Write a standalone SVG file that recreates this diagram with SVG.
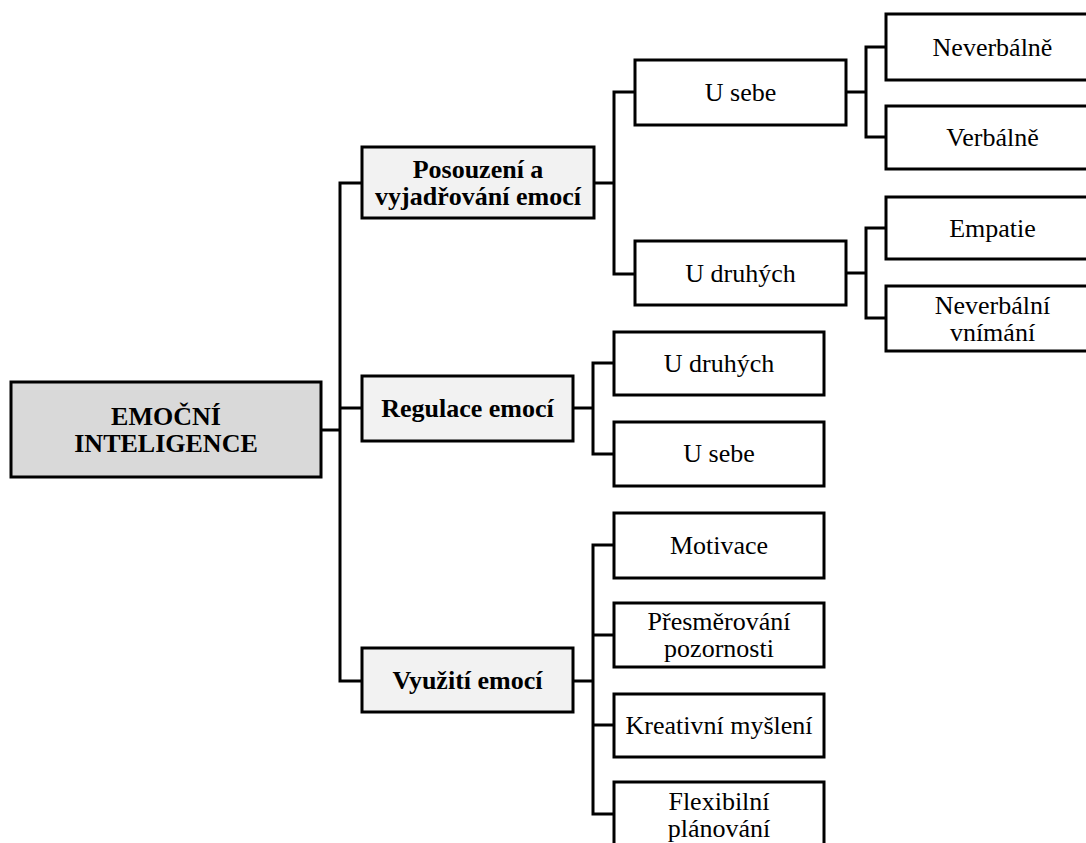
<svg xmlns="http://www.w3.org/2000/svg" width="1086" height="843" viewBox="0 0 1086 843">
<style>
.box{stroke:#000;stroke-width:3;fill:#fff}
.root{fill:#d9d9d9}
.l1{fill:#f2f2f2}
.c{fill:none;stroke:#000;stroke-width:3;stroke-linejoin:miter}
text{font-family:'Liberation Serif','Times New Roman',serif;font-size:26px;text-anchor:middle;fill:#000}
.b{font-weight:bold}
</style>
<rect width="1086" height="843" fill="#fff"/>
<g id="connectors">
<path class="c" d="M321,430 H340"/>
<path class="c" d="M362,183 H340 V681 H362"/>
<path class="c" d="M340,408 H362"/>
<path class="c" d="M594,183 H614"/>
<path class="c" d="M635,92 H614 V274 H635"/>
<path class="c" d="M846,92 H866"/>
<path class="c" d="M886,47 H866 V137 H886"/>
<path class="c" d="M846,273 H866"/>
<path class="c" d="M886,228 H866 V318 H886"/>
<path class="c" d="M573,408 H593"/>
<path class="c" d="M614,363 H593 V454 H614"/>
<path class="c" d="M573,681 H593"/>
<path class="c" d="M614,545 H593 V814 H614"/>
<path class="c" d="M593,635 H614 M593,725 H614"/>
</g>
<g id="emocni-inteligence">
<rect class="box root" x="11" y="382" width="310" height="95"/>
<text class="b" x="166" y="425">EMOČNÍ</text>
<text class="b" x="166" y="452">INTELIGENCE</text>
</g>
<g id="posouzeni">
<rect class="box l1" x="362" y="147" width="232" height="71"/>
<text class="b" x="478" y="177.5">Posouzení a</text>
<text class="b" x="478" y="204.5">vyjadřování emocí</text>
</g>
<g id="regulace">
<rect class="box l1" x="362" y="376" width="211" height="65"/>
<text class="b" x="467.5" y="417">Regulace emocí</text>
</g>
<g id="vyuziti">
<rect class="box l1" x="362" y="648" width="211" height="64"/>
<text class="b" x="467.5" y="689">Využití emocí</text>
</g>
<g id="u-sebe-1">
<rect class="box" x="635" y="60" width="211" height="65"/>
<text x="740.5" y="101">U sebe</text>
</g>
<g id="u-druhych-1">
<rect class="box" x="635" y="241" width="211" height="64"/>
<text x="740.5" y="282">U druhých</text>
</g>
<g id="neverbalne">
<rect class="box" x="886" y="14" width="213" height="66"/>
<text x="992.5" y="56">Neverbálně</text>
</g>
<g id="verbalne">
<rect class="box" x="886" y="106" width="213" height="63"/>
<text x="992.5" y="146">Verbálně</text>
</g>
<g id="empatie">
<rect class="box" x="886" y="197" width="213" height="62"/>
<text x="992.5" y="237">Empatie</text>
</g>
<g id="neverbalni-vnimani">
<rect class="box" x="886" y="286" width="213" height="65"/>
<text x="992.5" y="313.5">Neverbální</text>
<text x="992.5" y="340.5">vnímání</text>
</g>
<g id="u-druhych-2">
<rect class="box" x="614" y="332" width="210" height="63"/>
<text x="719" y="372">U druhých</text>
</g>
<g id="u-sebe-2">
<rect class="box" x="614" y="422" width="210" height="64"/>
<text x="719" y="462">U sebe</text>
</g>
<g id="motivace">
<rect class="box" x="614" y="513" width="210" height="65"/>
<text x="719" y="554">Motivace</text>
</g>
<g id="presmerovani">
<rect class="box" x="614" y="603" width="210" height="64"/>
<text x="719" y="630">Přesměrování</text>
<text x="719" y="657">pozornosti</text>
</g>
<g id="kreativni">
<rect class="box" x="614" y="694" width="210" height="63"/>
<text x="719" y="734">Kreativní myšlení</text>
</g>
<g id="flexibilni">
<rect class="box" x="614" y="782" width="210" height="66"/>
<text x="719" y="810">Flexibilní</text>
<text x="719" y="837">plánování</text>
</g>
</svg>
